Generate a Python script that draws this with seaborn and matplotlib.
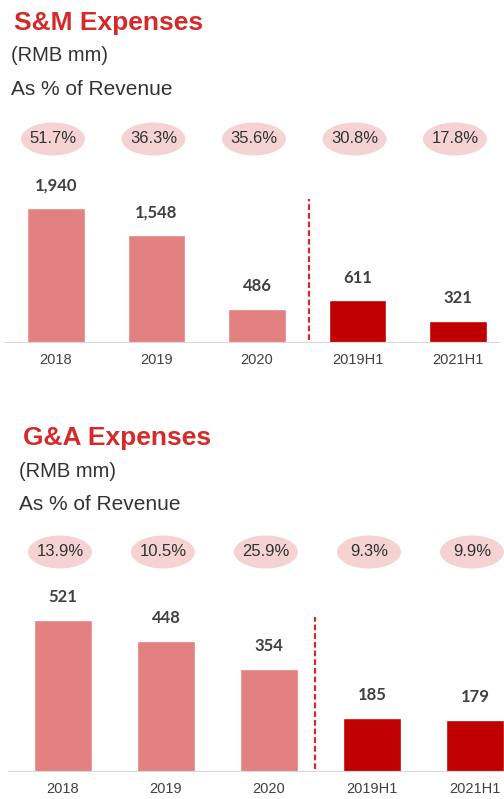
import pandas as pd
import seaborn as sns
import matplotlib.pyplot as plt
from matplotlib.patches import Ellipse

# ---- data ----
periods = ["2018", "2019", "2020", "2019H1", "2021H1"]
period_type = ["Year", "Year", "Year", "Half", "Half"]

sm_expenses = [1940, 1548, 486, 611, 321]
sm_pct = ["51.7%", "36.3%", "35.6%", "30.8%", "17.8%"]

ga_expenses = [521, 448, 354, 185, 179]
ga_pct = ["13.9%", "10.5%", "25.9%", "9.3%", "9.9%"]

W, H = 504, 799
RED = "#D42A2A"
palette = {"Year": "#E38080", "Half": "#C00000"}

sns.set_theme(style="white")
plt.rcParams["font.family"] = ["Liberation Sans", "DejaVu Sans"]

fig = plt.figure(figsize=(W / 100, H / 100), dpi=100)


def px_text(x, y, s, **kw):
    # place text using pixel coords measured from the top-left corner
    fig.text(x / W, 1 - y / H, s, va="baseline", ha="left", **kw)


def panel(values, pcts, g):
    ax = fig.add_axes([g["left"] / W, 1 - g["base"] / H,
                       (g["right"] - g["left"]) / W, (g["base"] - g["top"]) / H])
    yscale = g["bar_px"] / g["ref_val"]  # pixels per unit of value

    df = pd.DataFrame({"period": periods, "value": values, "type": period_type})
    sns.barplot(data=df, x="period", y="value", hue="type", order=periods,
                palette=palette, dodge=False, width=0.57, legend=False,
                saturation=1, ax=ax, zorder=2)

    ax.set_xlim((g["left"] - g["x0"]) / g["step"], (g["right"] - g["x0"]) / g["step"])
    ax.set_ylim(0, (g["base"] - g["top"]) / yscale)
    ax.axhline(0, color="#D9D9D9", lw=1.6, zorder=3)
    for s in ax.spines.values():
        s.set_visible(False)
    ax.set_yticks([])
    ax.set_xlabel("")
    ax.set_ylabel("")
    ax.set_xticks(range(len(periods)))
    ax.set_xticklabels(periods, fontsize=10.5, color="#404040")
    ax.tick_params(axis="x", length=0, pad=7)

    # value labels above bars
    for i, v in enumerate(values):
        ax.annotate(f"{v:,}", (i, v), xytext=(0, 16.5), textcoords="offset points",
                    ha="center", va="center", fontsize=12, fontweight="bold",
                    color="#404040", family=["Lato", "DejaVu Sans"])

    # pink ellipses with % of revenue
    ey = (g["base"] - g["ell_y"]) / yscale
    for i, p in enumerate(pcts):
        ax.add_patch(Ellipse((i - 0.03, ey), 64 / g["step"], 33 / yscale,
                             facecolor="#F5D3D3", edgecolor="none", clip_on=False))
        ax.text(i - 0.03, ey, p, ha="center", va="center", fontsize=12,
                color="#333333", clip_on=False)

    # dashed divider between annual and half-year figures
    ax.plot([g["div_x"], g["div_x"]], [0.02 * g["ref_val"], (g["base"] - g["div_top"]) / yscale],
            color=RED, lw=1.6, dashes=(2.6, 1.3), zorder=3)
    return ax


panel(sm_expenses, sm_pct,
      dict(left=5, right=500, top=110, base=343, x0=56, step=100.5,
           bar_px=135, ref_val=1940, ell_y=139, div_x=2.52, div_top=199))
panel(ga_expenses, ga_pct,
      dict(left=8, right=504, top=525, base=772, x0=63, step=103,
           bar_px=152, ref_val=521, ell_y=552, div_x=2.45, div_top=617))

px_text(14, 30, "S&M Expenses", fontsize=19, fontweight="bold", color=RED)
px_text(11, 61, "(RMB mm)", fontsize=14.5, color="#333333")
px_text(11, 95, "As % of Revenue", fontsize=15, color="#333333")

px_text(23, 445, "G&A Expenses", fontsize=19, fontweight="bold", color=RED)
px_text(19, 477, "(RMB mm)", fontsize=14.5, color="#333333")
px_text(19, 510, "As % of Revenue", fontsize=15, color="#333333")

plt.savefig("out.png", dpi=100)
